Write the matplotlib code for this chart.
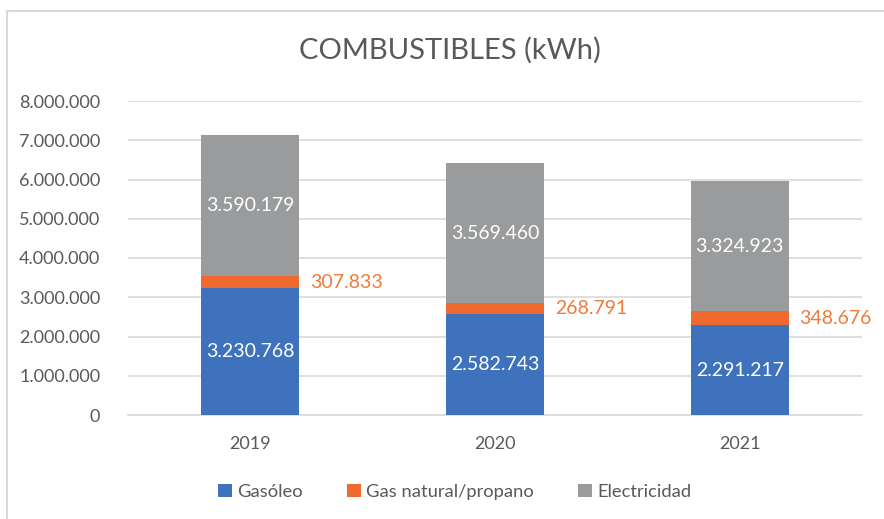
import numpy as np
import matplotlib.pyplot as plt
from matplotlib.lines import Line2D
from matplotlib.ticker import FuncFormatter

plt.rcParams['font.family'] = ['Lato', 'DejaVu Sans']

years = ['2019', '2020', '2021']
gasoleo = [3230768, 2582743, 2291217]
gas_natural = [307833, 268791, 348676]
electricidad = [3590179, 3569460, 3324923]

series_names = ['Gasóleo', 'Gas natural/propano', 'Electricidad']
colors = ['#3E72BC', '#F06A30', '#999B9C']
text_grey = '#595959'


def fmt_es(v):
    return f'{int(round(v)):,}'.replace(',', '.')


fig = plt.figure(figsize=(8.84, 5.19), dpi=100)
ax = fig.add_axes([128 / 884, 1 - 415 / 519, 734 / 884, 314 / 519])

x = np.arange(len(years))
w = 0.4
b1 = ax.bar(x, gasoleo, w, color=colors[0], label=series_names[0], zorder=3)
bottom2 = np.array(gasoleo)
b2 = ax.bar(x, gas_natural, w, bottom=bottom2, color=colors[1],
            label=series_names[1], zorder=3)
bottom3 = bottom2 + np.array(gas_natural)
b3 = ax.bar(x, electricidad, w, bottom=bottom3, color=colors[2],
            label=series_names[2], zorder=3)

# value labels
for i in range(len(years)):
    ax.text(x[i], gasoleo[i] / 2, fmt_es(gasoleo[i]), ha='center', va='center',
            color='white', fontsize=14, zorder=4)
    ax.text(x[i], bottom3[i] + electricidad[i] / 2, fmt_es(electricidad[i]),
            ha='center', va='center', color='white', fontsize=14, zorder=4)
    ax.text(x[i] + w / 2 + 0.045, bottom2[i] + gas_natural[i] / 2,
            fmt_es(gas_natural[i]), ha='left', va='center', color='#F07A3A',
            fontsize=14, zorder=4)

ax.set_xlim(-0.5, 2.5)
ax.set_ylim(0, 8000000)
ax.set_yticks(np.arange(0, 8000001, 1000000))
ax.yaxis.set_major_formatter(FuncFormatter(lambda v, p: fmt_es(v)))
ax.set_xticks(x)
ax.set_xticklabels(years)
ax.tick_params(axis='both', length=0, labelsize=13, labelcolor=text_grey)
ax.tick_params(axis='y', pad=20)
ax.tick_params(axis='x', pad=15)
ax.grid(axis='y', color='#D9D9D9', linewidth=1.2, zorder=0)
for s in ['top', 'right', 'left']:
    ax.spines[s].set_visible(False)
ax.spines['bottom'].set_color('#D9D9D9')
ax.spines['bottom'].set_linewidth(1.2)

fig.text(450 / 884, 1 - 50 / 519, 'COMBUSTIBLES (kWh)', ha='center', va='center',
         fontsize=21, color=text_grey)

leg = fig.legend(handles=[b1, b2, b3], labels=series_names, loc='center',
                 bbox_to_anchor=(455 / 884, 1 - 492 / 519), ncol=3, frameon=False,
                 fontsize=13.2, handlelength=0.75, handleheight=0.75,
                 handletextpad=0.3, columnspacing=2.4)
for t in leg.get_texts():
    t.set_color(text_grey)

# outer chart frame (left and top edges)
fig.add_artist(Line2D([6.5 / 884, 6.5 / 884], [0, 1 - 11 / 519],
                      transform=fig.transFigure, color='#D9D9D9', linewidth=1.5))
fig.add_artist(Line2D([6.5 / 884, 1], [1 - 11 / 519, 1 - 11 / 519],
                      transform=fig.transFigure, color='#D9D9D9', linewidth=1.5))

fig.savefig('out.png', dpi=100)
